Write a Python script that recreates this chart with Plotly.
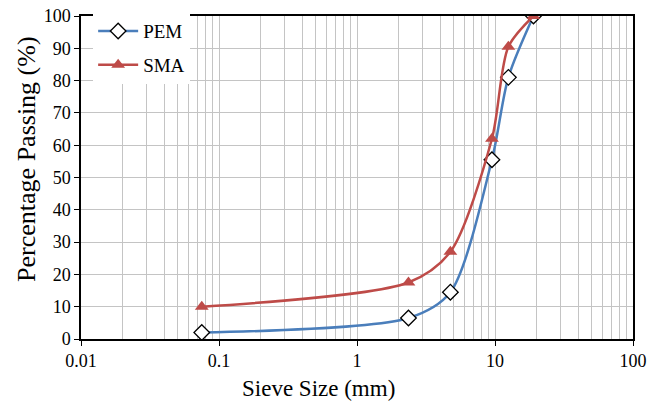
import plotly.graph_objects as go

sieve_mm = [0.075, 2.36, 4.75, 9.5, 12.5, 19]
pem = [2, 6.5, 14.5, 55.5, 81, 100]
sma = [10, 17.5, 27, 62, 90.5, 100]
x_ticks = [0.01, 0.1, 1, 10, 100]
x_tick_text = ["0.01", "0.1", "1", "10", "100"]
x_title = "Sieve Size (mm)"
y_title = "Percentage Passing (%)"

font_family = "Liberation Serif"

fig = go.Figure()
fig.add_trace(go.Scatter(
    x=sieve_mm, y=pem, name="PEM", mode="lines+markers", legendgroup="a",
    line=dict(color="#4a7ebb", width=2.5, shape="spline", smoothing=0.8),
    marker=dict(symbol="diamond", size=12, color="white", line=dict(color="black", width=1.3)),
))
fig.add_trace(go.Scatter(
    x=sieve_mm, y=sma, name="SMA", mode="lines+markers", legendgroup="b",
    line=dict(color="#be4b48", width=2.5, shape="spline", smoothing=0.8),
    marker=dict(symbol="triangle-up", size=12, color="#be4b48"),
))

fig.update_layout(
    width=660, height=401,
    margin=dict(l=81, r=27, t=16, b=62),
    paper_bgcolor="white", plot_bgcolor="white",
    font=dict(family=font_family, size=18, color="black"),
    showlegend=True,
    legend=dict(x=0.022, y=1.012, xanchor="left", yanchor="top",
                bgcolor="white", font=dict(family=font_family, size=19), itemwidth=40,
                traceorder="grouped", tracegroupgap=6),
    annotations=[
        dict(text=x_title, xref="paper", yref="paper", x=0.43, y=-0.152,
             xanchor="center", yanchor="middle", showarrow=False,
             font=dict(family=font_family, size=23, color="black")),
        dict(text=y_title, xref="paper", yref="paper", x=-0.1, y=0.557,
             xanchor="center", yanchor="middle", showarrow=False, textangle=-90,
             font=dict(family=font_family, size=26, color="black")),
    ],
)
fig.update_xaxes(
    type="log", range=[-2, 2], automargin=False,
    tickvals=x_ticks, ticktext=x_tick_text,
    tickfont=dict(family=font_family, size=18, color="black"),
    showgrid=True, gridcolor="#c4c4c4", gridwidth=1.3,
    minor=dict(showgrid=True, gridcolor="#c4c4c4", gridwidth=1.3, dtick="D1", ticks=""),
    showline=True, linecolor="black", linewidth=1.5, mirror=True,
    ticks="outside", ticklen=5, tickcolor="black",
    zeroline=False,
)
fig.update_yaxes(
    range=[0, 100], dtick=10, automargin=False,
    tickfont=dict(family=font_family, size=18, color="black"),
    showgrid=True, gridcolor="#c4c4c4", gridwidth=1.3,
    showline=True, linecolor="black", linewidth=1.5, mirror=True,
    ticks="outside", ticklen=5, tickcolor="black",
    zeroline=False,
)

fig.write_html("out.html", config={"displayModeBar": False},
               post_script="document.body.style.margin='0';")
